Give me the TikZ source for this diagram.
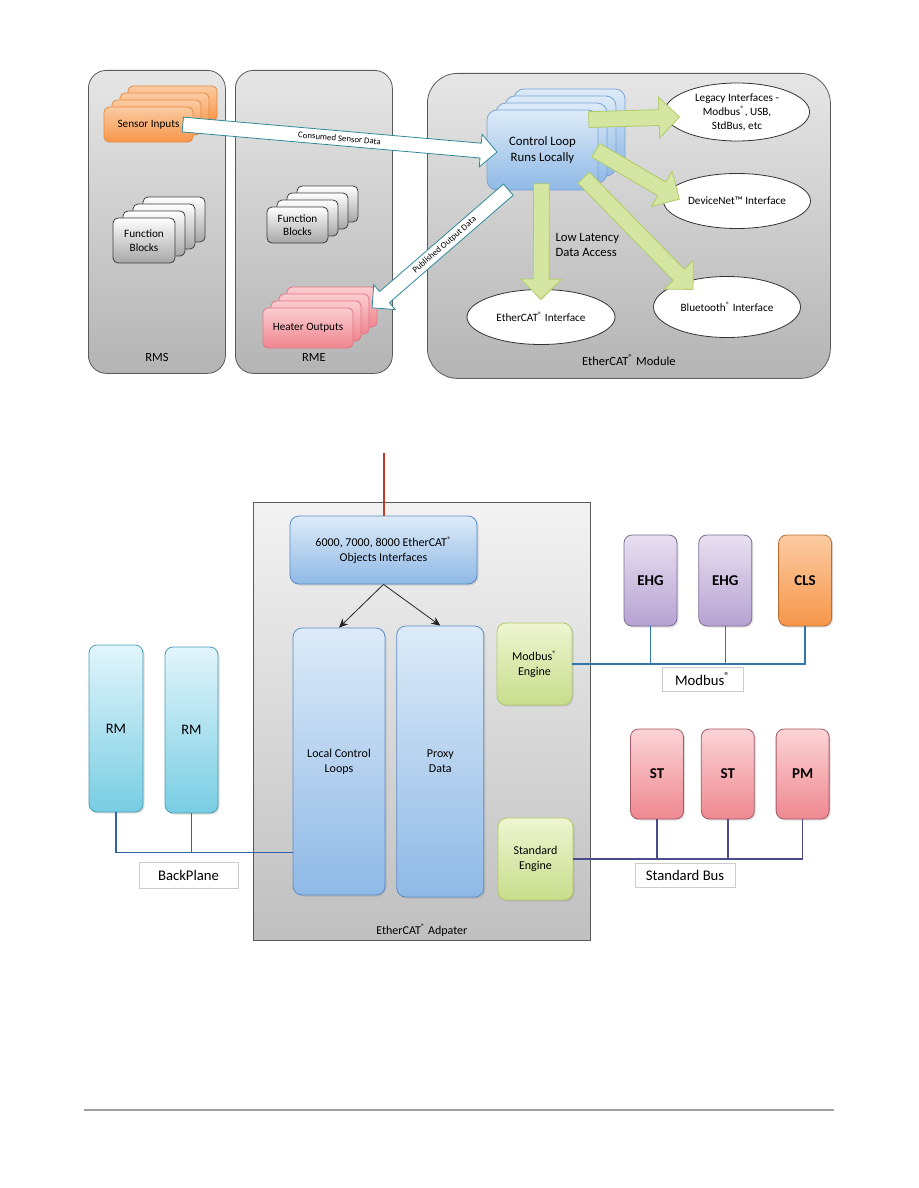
\documentclass[tikz,border=0pt]{standalone}
\usepackage{fontspec}
\setmainfont{Carlito}
\usepackage{tikz}
\usetikzlibrary{arrows.meta,positioning,calc,shapes.geometric,shapes.arrows,shadows}
\definecolor{EcatFrame}{HTML}{5A5A5A}
\definecolor{EcatPanelTop}{HTML}{E6E6E6}
\definecolor{EcatPanelBot}{HTML}{B4B4B4}
\definecolor{EcatOrangeTop}{HTML}{FBCBA2}
\definecolor{EcatOrangeBot}{HTML}{F7964A}
\definecolor{EcatOrangeLine}{HTML}{E58A3F}
\definecolor{EcatPinkTop}{HTML}{FBCDD1}
\definecolor{EcatPinkBot}{HTML}{F0858F}
\definecolor{EcatPinkLine}{HTML}{E27683}
\definecolor{EcatBlueTop}{HTML}{DDEBF8}
\definecolor{EcatBlueBot}{HTML}{8FB9E6}
\definecolor{EcatBlueLine}{HTML}{5B8CC8}
\definecolor{EcatGreen}{HTML}{D5E6A3}
\definecolor{EcatGreenLine}{HTML}{AFCB66}
\definecolor{EcatGreenTop}{HTML}{EEF5D0}
\definecolor{EcatGreenBot}{HTML}{C8DD8C}
\definecolor{EcatTeal}{HTML}{2E8A99}
\definecolor{EcatPurpleTop}{HTML}{E8E0F1}
\definecolor{EcatPurpleBot}{HTML}{B6A2D2}
\definecolor{EcatPurpleLine}{HTML}{7E6E96}
\definecolor{EcatRedTop}{HTML}{FBD4D7}
\definecolor{EcatRedBot}{HTML}{EF8890}
\definecolor{EcatRedLine}{HTML}{A35A66}
\definecolor{EcatCyanTop}{HTML}{E2F5FB}
\definecolor{EcatCyanBot}{HTML}{78CDE3}
\definecolor{EcatCyanLine}{HTML}{4A9DB5}
\definecolor{EcatModbusWire}{HTML}{2F78AE}
\definecolor{EcatStdWire}{HTML}{4A4C8A}
\definecolor{EcatPlaneWire}{HTML}{2F62A6}
\definecolor{EcatUplink}{HTML}{C0392B}
\tikzset{
  panel/.style={draw=EcatFrame, thick, rounded corners=18pt,
    top color=EcatPanelTop, bottom color=EcatPanelBot, anchor=north west},
  paneltitle/.style={font=\fontsize{12.5}{14}\selectfont},
  stackbox/.style={rounded corners=5pt, align=center, thick,
    font=\fontsize{11.2}{13.5}\selectfont},
  sensorbox/.style={stackbox, draw=EcatOrangeLine, top color=EcatOrangeTop,
    bottom color=EcatOrangeBot, minimum width=89pt, minimum height=35pt},
  funcbox/.style={stackbox, draw=black!75, top color=white, bottom color=black!35},
  heaterbox/.style={stackbox, draw=EcatPinkLine, top color=EcatPinkTop,
    bottom color=EcatPinkBot, minimum width=90pt, minimum height=40pt},
  ctrlbox/.style={stackbox, draw=EcatBlueLine!80, top color=EcatBlueTop,
    bottom color=EcatBlueBot, minimum width=111pt, minimum height=80pt,
    rounded corners=10pt, font=\fontsize{12.8}{15.5}\selectfont},
  iface/.style={ellipse, draw=black!80, thick, fill=white, inner sep=0pt,
    align=center, font=\fontsize{11.2}{14}\selectfont},
  greenarrow/.style={single arrow, draw=EcatGreenLine, fill=EcatGreen, thick,
    inner xsep=0pt, inner ysep=7.5pt, single arrow head extend=12.5pt},
  whitearrow/.style={single arrow, draw=EcatTeal, fill=white, thick,
    inner xsep=0pt, inner ysep=7pt, single arrow head extend=9pt},
  arrowtext/.style={sloped, inner sep=1pt, font=\fontsize{8.8}{10}\selectfont},
  adapter/.style={draw=EcatFrame, thick, top color=black!5, bottom color=black!25,
    anchor=north west},
  bluebox/.style={draw=EcatBlueLine, thick, rounded corners=9pt, align=center,
    top color=EcatBlueTop, bottom color=EcatBlueBot,
    font=\fontsize{12}{15}\selectfont,
    drop shadow={opacity=0.25, shadow xshift=1.5pt, shadow yshift=-1.5pt}},
  engine/.style={draw=EcatGreenLine, thick, rounded corners=9pt, align=center,
    top color=EcatGreenTop, bottom color=EcatGreenBot,
    minimum width=75pt, minimum height=82pt, font=\fontsize{12}{15}\selectfont,
    drop shadow={opacity=0.25, shadow xshift=1.5pt, shadow yshift=-1.5pt}},
  device/.style={thick, rounded corners=8pt, align=center,
    minimum width=53pt, minimum height=91pt, font=\bfseries\fontsize{15}{17}\selectfont,
    drop shadow={opacity=0.25, shadow xshift=1.5pt, shadow yshift=-1.5pt}},
  ehgbox/.style={device, draw=EcatPurpleLine, top color=EcatPurpleTop, bottom color=EcatPurpleBot},
  clsbox/.style={device, draw=EcatOrangeLine!80!black, top color=EcatOrangeTop, bottom color=EcatOrangeBot},
  stbox/.style={device, draw=EcatRedLine, top color=EcatRedTop, bottom color=EcatRedBot, minimum height=90pt},
  rmbox/.style={device, draw=EcatCyanLine, top color=EcatCyanTop, bottom color=EcatCyanBot,
    font=\fontsize{14.5}{17}\selectfont},
  buslabel/.style={draw=black!20, fill=white, minimum height=24pt,
    font=\fontsize{14.7}{16}\selectfont},
  flow/.style={-{Stealth[length=9pt, width=8pt]}, thick, draw=black!85},
  modbuswire/.style={line width=1.5pt, draw=EcatModbusWire},
  stdwire/.style={line width=1.5pt, draw=EcatStdWire},
  planewire/.style={line width=1.5pt, draw=EcatPlaneWire},
  uplinkwire/.style={line width=2pt, draw=EcatUplink}
}
\newcommand{\regmark}{\textsuperscript{\textregistered}}
\newcommand{\blockarrow}[3][]{%
  \path let \p1=($(#3)-(#2)$), \n1={atan2(\y1,\x1)}, \n2={veclen(\x1,\y1)} in
    node[#1, anchor=tail, rotate=\n1, minimum height=\n2] at (#2) {};}

\begin{document}
\begin{tikzpicture}[x=1pt, y=-1pt]
  \fill[white] (0,0) rectangle (918,1188);
  \useasboundingbox (0,0) rectangle (918,1188);

  % upper figure: the three modules
  \node[panel, minimum width=137pt, minimum height=303pt] (rms) at (88,70) {};
  \node[panel, minimum width=157pt, minimum height=303pt] (rme) at (235,70) {};
  \node[panel, minimum width=403pt, minimum height=305pt, rounded corners=30pt] (module) at (427,73) {};
  \node[paneltitle, above=9pt of rms.south] {RMS};
  \node[paneltitle, above=9pt of rme.south] {RME};
  \node[paneltitle, above=10pt of module.south] {EtherCAT\regmark{} Module};

  % stacked blocks
  \coordinate (sensorpos) at (148.5,124.5);
  \foreach \k in {3,2,1}
    \node[sensorbox] at ($(sensorpos)+(8*\k,-7*\k)$) {};
  \node[sensorbox] (sensor) at (sensorpos) {Sensor Inputs};

  \coordinate (rmsfuncpos) at (144,240.5);
  \foreach \k in {3,2,1}
    \node[funcbox, minimum width=62pt, minimum height=45pt] at ($(rmsfuncpos)+(10*\k,-7*\k)$) {};
  \node[funcbox, minimum width=62pt, minimum height=45pt] (rmsfunc) at (rmsfuncpos) {Function\\Blocks};

  \coordinate (rmefuncpos) at (297.5,225);
  \foreach \k in {3,2,1}
    \node[funcbox, minimum width=61pt, minimum height=36pt] at ($(rmefuncpos)+(10*\k,-7*\k)$) {};
  \node[funcbox, minimum width=61pt, minimum height=36pt] (rmefunc) at (rmefuncpos) {Function\\Blocks};

  \coordinate (heaterpos) at (308,328);
  \foreach \k in {3,2,1}
    \node[heaterbox] at ($(heaterpos)+(8*\k,-7*\k)$) {};
  \node[heaterbox] (heater) at (heaterpos) {Heater Outputs};

  \coordinate (ctrlpos) at (542.5,150);
  \foreach \k in {3,2,1}
    \node[ctrlbox] at ($(ctrlpos)+(9*\k,-7*\k)$) {};
  \node[ctrlbox] (ctrl) at (ctrlpos) {Control Loop\\Runs Locally};

  % interfaces
  \node[iface, minimum width=145pt, minimum height=58pt] (legacy) at (737,112)
    {Legacy Interfaces -\\Modbus\regmark, USB,\\StdBus, etc};
  \node[iface, minimum width=147pt, minimum height=55pt] (devnet) at (737,201) {DeviceNet™ Interface};
  \node[iface, minimum width=147pt, minimum height=61pt] (bt) at (727,307) {Bluetooth\regmark{} Interface};
  \node[iface, minimum width=148pt, minimum height=55pt] (ecif) at (541,317) {EtherCAT\regmark{} Interface};
  \node[anchor=west, align=left, font=\fontsize{12.7}{15.5}\selectfont] (latency) at (552,245)
    {Low Latency\\Data Access};

  % data paths
  \coordinate (consumedtail) at ($(sensor.east)+(-11,0)$);
  \coordinate (consumedtip) at ($(ctrl.west)+(10,2)$);
  \coordinate (publishedtail) at ($(ctrl.south west)+(22,-1)$);
  \coordinate (publishedtip) at ($(heater.north east)+(19,0)$);
  \blockarrow[whitearrow]{consumedtail}{consumedtip}
  \blockarrow[whitearrow]{publishedtail}{publishedtip}
  \path (consumedtail) -- node[arrowtext, pos=0.5] {Consumed Sensor Data} (consumedtip);
  \path (publishedtail) -- node[arrowtext, pos=0.47] {Published Output Data} (publishedtip);

  \coordinate (legacytail) at ($(ctrl.north east)+(-10,10)$);
  \coordinate (legacytip) at ($(legacy.west)+(15,5)$);
  \coordinate (devnettail) at ($(ctrl.east)+(-3,0)$);
  \coordinate (devnettip) at ($(devnet.west)+(16,-2)$);
  \coordinate (bttail) at ($(ctrl.south east)+(-15,-13)$);
  \coordinate (bttip) at ($(bt.north west)+(18,4)$);
  \coordinate (eciftail) at ($(ctrl.south)+(-1,-7)$);
  \coordinate (eciftip) at ($(ecif.north)+(0,10)$);
  \blockarrow[greenarrow]{legacytail}{legacytip}
  \blockarrow[greenarrow]{devnettail}{devnettip}
  \blockarrow[greenarrow]{bttail}{bttip}
  \blockarrow[greenarrow]{eciftail}{eciftip}

  % lower figure: adapter
  \coordinate (uplink) at (383.5,453);
  \node[adapter, minimum width=337pt, minimum height=438pt] (adapter) at (253,502) {};
  \node[paneltitle, font=\fontsize{12}{14}\selectfont, above=1pt of adapter.south] {EtherCAT\regmark{} Adpater};
  \node[bluebox, minimum width=187pt, minimum height=68pt] (objif) at (383.5,550)
    {6000, 7000, 8000 EtherCAT\regmark\\Objects Interfaces};
  \draw[uplinkwire] (uplink) -- (objif.north);
  \node[bluebox, minimum width=92pt, minimum height=267pt] (loops) at (339,761.5) {Local Control\\Loops};
  \node[bluebox, minimum width=87pt, minimum height=271pt, right=11pt of loops] (proxy) {Proxy\\Data};
  \draw[flow] (objif.south) -- (loops.north);
  \draw[flow] (objif.south) -- (proxy.north);
  \node[engine] (mbeng) at (534.5,664) {Modbus\regmark\\Engine};
  \node[engine] (stdeng) at (535.5,859) {Standard\\Engine};

  % Modbus side
  \node[ehgbox] (ehgone) at (650.5,580.5) {EHG};
  \node[ehgbox, right=21pt of ehgone] (ehgtwo) {EHG};
  \node[clsbox, right=26pt of ehgtwo] (cls) {CLS};
  \coordinate (mbend) at (cls.south |- mbeng.east);
  \draw[modbuswire] (mbeng.east) -- (mbend) -- (cls.south);
  \draw[modbuswire] (ehgone.south) -- (ehgone.south |- mbend);
  \draw[modbuswire] (ehgtwo.south) -- (ehgtwo.south |- mbend);
  \node[buslabel, minimum width=81pt] (mblabel) at (702.5,679) {Modbus\regmark};

  % Standard bus side
  \node[stbox] (stone) at (657,774) {ST};
  \node[stbox, right=17pt of stone] (sttwo) {ST};
  \node[stbox, right=21pt of sttwo] (pm) {PM};
  \coordinate (stdend) at (pm.south |- stdeng.east);
  \draw[stdwire] (stdeng.east) -- (stdend) -- (pm.south);
  \draw[stdwire] (stone.south) -- (stone.south |- stdend);
  \draw[stdwire] (sttwo.south) -- (sttwo.south |- stdend);
  \node[buslabel, minimum width=100pt] (stdlabel) at (685,875) {Standard Bus};

  % backplane side
  \node[rmbox, minimum width=54pt, minimum height=167pt] (rmone) at (116,728.5) {RM};
  \node[rmbox, minimum height=166pt] (rmtwo) at (191.5,730) {RM};
  \coordinate (planeend) at ($(loops.south west)+(0,-43)$);
  \draw[planewire] (rmone.south) |- (planeend);
  \draw[planewire] (rmtwo.south) -- (rmtwo.south |- planeend);
  \node[buslabel, minimum width=99pt, minimum height=26pt] (planelabel) at (188.5,875) {BackPlane};

  % page rule
  \draw[line width=2pt, black!38] (84,1110) -- (834,1110);
\end{tikzpicture}
\end{document}
